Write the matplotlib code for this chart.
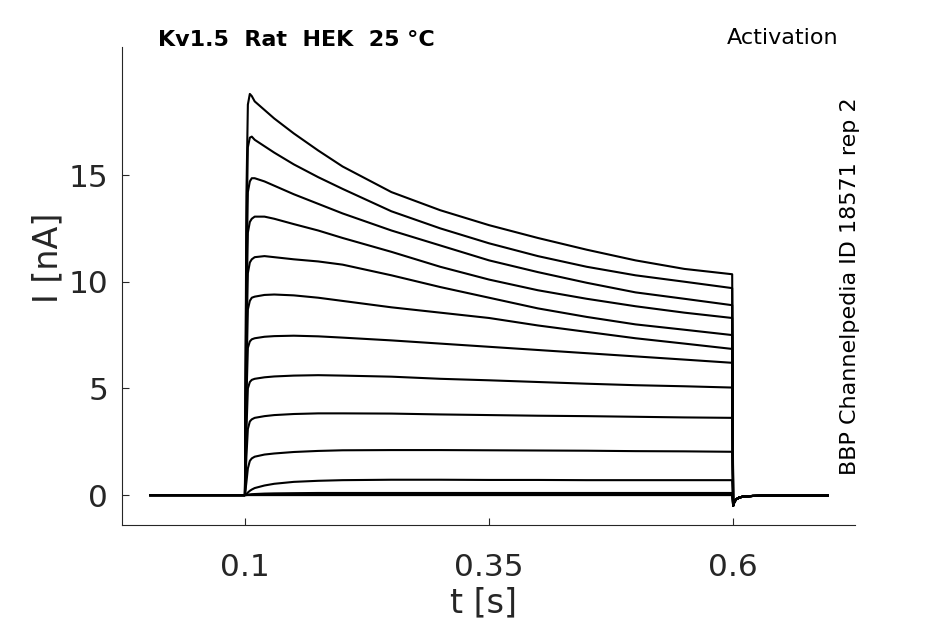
import matplotlib
matplotlib.use("Agg")
import matplotlib.pyplot as plt
import numpy as np

# time points (s) sampled along the voltage step
t_step = [0.1, 0.1015, 0.103, 0.105, 0.107, 0.11, 0.12, 0.13, 0.15, 0.175,
          0.2, 0.25, 0.3, 0.35, 0.4, 0.45, 0.5, 0.55, 0.599]

# current (nA) of each sweep at t_step
i_sweeps = [
    [0, 14.0, 18.3, 18.8, 18.7, 18.45, 18.05, 17.65, 16.95, 16.15, 15.4, 14.2, 13.35, 12.65, 12.05, 11.5, 11.0, 10.6, 10.35],
    [0, 12.0, 16.3, 16.75, 16.8, 16.65, 16.35, 16.05, 15.5, 14.9, 14.35, 13.3, 12.5, 11.8, 11.2, 10.7, 10.3, 10.0, 9.7],
    [0, 10.0, 14.2, 14.7, 14.85, 14.85, 14.7, 14.5, 14.1, 13.65, 13.2, 12.4, 11.7, 11.0, 10.45, 9.95, 9.5, 9.2, 8.9],
    [0, 8.5, 12.3, 12.8, 12.95, 13.05, 13.05, 12.95, 12.7, 12.4, 12.05, 11.4, 10.7, 10.1, 9.6, 9.2, 8.85, 8.55, 8.3],
    [0, 7.0, 10.4, 10.9, 11.05, 11.15, 11.2, 11.15, 11.05, 10.95, 10.8, 10.3, 9.75, 9.25, 8.75, 8.35, 8.0, 7.75, 7.5],
    [0, 5.5, 8.7, 9.1, 9.25, 9.3, 9.38, 9.4, 9.36, 9.25, 9.1, 8.8, 8.55, 8.3, 7.95, 7.65, 7.35, 7.1, 6.85],
    [0, 4.5, 6.9, 7.2, 7.3, 7.35, 7.42, 7.45, 7.47, 7.44, 7.38, 7.25, 7.1, 6.95, 6.8, 6.65, 6.5, 6.35, 6.2],
    [0, 3.0, 5.0, 5.3, 5.4, 5.45, 5.52, 5.56, 5.6, 5.62, 5.6, 5.55, 5.45, 5.38, 5.3, 5.22, 5.15, 5.1, 5.04],
    [0, 1.8, 3.1, 3.45, 3.55, 3.62, 3.7, 3.75, 3.8, 3.83, 3.83, 3.82, 3.78, 3.75, 3.72, 3.7, 3.67, 3.64, 3.62],
    [0, 0.6, 1.25, 1.6, 1.72, 1.8, 1.9, 1.95, 2.02, 2.07, 2.1, 2.11, 2.11, 2.1, 2.09, 2.08, 2.06, 2.05, 2.03],
    [0, 0.05, 0.12, 0.2, 0.26, 0.33, 0.45, 0.53, 0.62, 0.67, 0.7, 0.72, 0.72, 0.71, 0.71, 0.7, 0.7, 0.7, 0.7],
    [0, 0.01, 0.02, 0.03, 0.04, 0.05, 0.07, 0.08, 0.09, 0.1, 0.1, 0.1, 0.1, 0.1, 0.1, 0.1, 0.1, 0.1, 0.1],
    [0, 0.0, 0.01, 0.01, 0.02, 0.02, 0.03, 0.03, 0.04, 0.04, 0.04, 0.04, 0.04, 0.04, 0.04, 0.04, 0.04, 0.04, 0.04],
    [0, 0, 0, 0, 0, 0, 0, 0, 0, 0, 0, 0, 0, 0, 0, 0, 0, 0, 0],
]

# holding before the step and tail after it
t_pre = [0.003, 0.0995]
i_pre = [0.0, 0.0]
t_tail = [0.6, 0.6012, 0.603, 0.606, 0.61, 0.62, 0.64, 0.697]
i_tail = [-0.5, -0.32, -0.2, -0.12, -0.07, -0.04, -0.02, -0.02]

xticks = [0.1, 0.35, 0.6]
xticklabels = ["0.1", "0.35", "0.6"]
yticks = [0, 5, 10, 15]

grey = "#262626"

fig = plt.figure(figsize=(9.45, 6.24), dpi=100)
ax = fig.add_axes([0.129, 0.1587, 0.776, 0.766])

for sweep in i_sweeps:
    t = np.concatenate([t_pre, t_step, t_tail])
    i = np.concatenate([i_pre, sweep, i_tail])
    ax.plot(t, i, color="black", lw=1.5)

ax.set_xlim(-0.026, 0.725)
ax.set_ylim(-1.4, 21)
ax.set_xticks(xticks)
ax.set_xticklabels(xticklabels)
ax.set_yticks(yticks)

for side in ["top", "right"]:
    ax.spines[side].set_visible(False)
for side in ["left", "bottom"]:
    ax.spines[side].set_color(grey)
    ax.spines[side].set_linewidth(0.8)

ax.tick_params(axis="both", direction="in", length=5, width=0.8,
               color=grey, labelcolor=grey, labelsize=22.5)
ax.tick_params(axis="x", pad=20)
ax.tick_params(axis="y", pad=10)

fig.text(484 / 945, 1 - 603 / 624, "t [s]", fontsize=24, color=grey,
         ha="center", va="center")
fig.text(48 / 945, 1 - 258 / 624, "I [nA]", fontsize=24, color=grey,
         ha="center", va="center", rotation=90)

fig.text(158 / 945, 1 - 40 / 624, "Kv1.5  Rat  HEK  25 °C", fontsize=16,
         fontweight="bold", color="black", ha="left", va="center")
fig.text(838 / 945, 1 - 38 / 624, "Activation", fontsize=16,
         color="black", ha="right", va="center")
fig.text(850 / 945, 1 - 286 / 624, "BBP Channelpedia ID 18571 rep 2",
         fontsize=16, color="black", ha="center", va="center", rotation=90)

fig.savefig("out.png", dpi=100)
